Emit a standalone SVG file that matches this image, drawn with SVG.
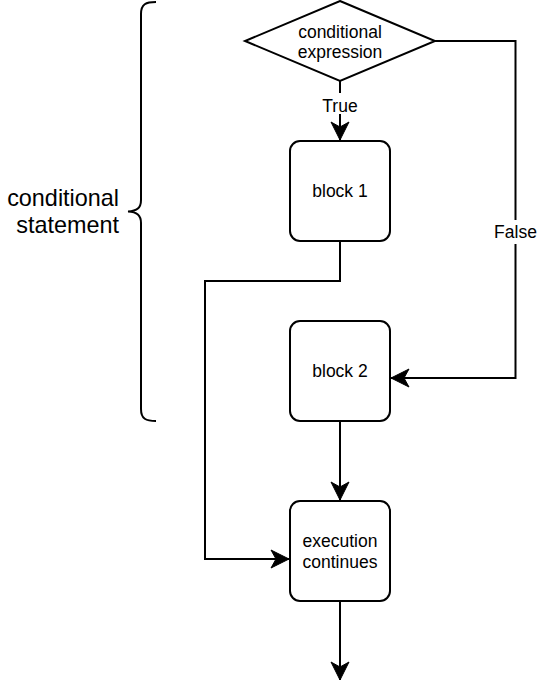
<svg xmlns="http://www.w3.org/2000/svg" width="538" height="697" viewBox="0 0 538 697">
<style>
.shape{fill:#fff;stroke:#000;stroke-width:2}
.line{fill:none;stroke:#000;stroke-width:2}
.t{font-family:"Liberation Sans",Arial,sans-serif;font-size:17.5px;fill:#000;text-anchor:middle}
.big{font-family:"Liberation Sans",Arial,sans-serif;font-size:23.4px;fill:#000;text-anchor:end}
</style>
<defs>
<marker id="arr" markerUnits="userSpaceOnUse" markerWidth="20" markerHeight="20" viewBox="-19 -10 20 20" refX="0" refY="0" orient="auto">
<path d="M0,0 L-18,-9 L-13,0 L-18,9 Z" fill="#000" stroke="#000" stroke-width="1"/>
</marker>
</defs>
<rect width="538" height="697" fill="#fff"/>
<g id="connectors">
<path class="line" d="M340,81 L340,140" marker-end="url(#arr)"/>
<path class="line" d="M435,41 L515.5,41 L515.5,378 L391,378" marker-end="url(#arr)"/>
<path class="line" d="M340,241 L340,281 L205,281 L205,559 L289,559" marker-end="url(#arr)"/>
<path class="line" d="M340,421 L340,500" marker-end="url(#arr)"/>
<path class="line" d="M340,601 L340,680" marker-end="url(#arr)"/>
<rect x="322" y="93" width="36" height="21" fill="#fff"/>
<text class="t" x="340" y="111.5">True</text>
<rect x="493" y="220" width="45" height="24" fill="#fff"/>
<text class="t" x="515.5" y="238.3">False</text>
</g>
<g id="brace">
<path class="line" d="M156,2 C146,2 141,4 141,14 L141,200 C141,208 137,211 128,211.5 C137,212 141,215 141,223 L141,409 C141,419 146,421 156,421"/>
<text class="big" x="119" y="206">conditional</text>
<text class="big" x="119" y="233">statement</text>
</g>
<g id="cond">
<polygon class="shape" points="340,1 435,41 340,81 245,41"/>
<text class="t" x="340" y="37.5">conditional</text>
<text class="t" x="340" y="58">expression</text>
</g>
<g id="block1">
<rect class="shape" x="290" y="141" width="100" height="100" rx="10"/>
<text class="t" x="340" y="197">block 1</text>
</g>
<g id="block2">
<rect class="shape" x="290" y="321" width="100" height="100" rx="10"/>
<text class="t" x="340" y="377">block 2</text>
</g>
<g id="exec">
<rect class="shape" x="290" y="501" width="100" height="100" rx="10"/>
<text class="t" x="340" y="547">execution</text>
<text class="t" x="340" y="568">continues</text>
</g>
</svg>
